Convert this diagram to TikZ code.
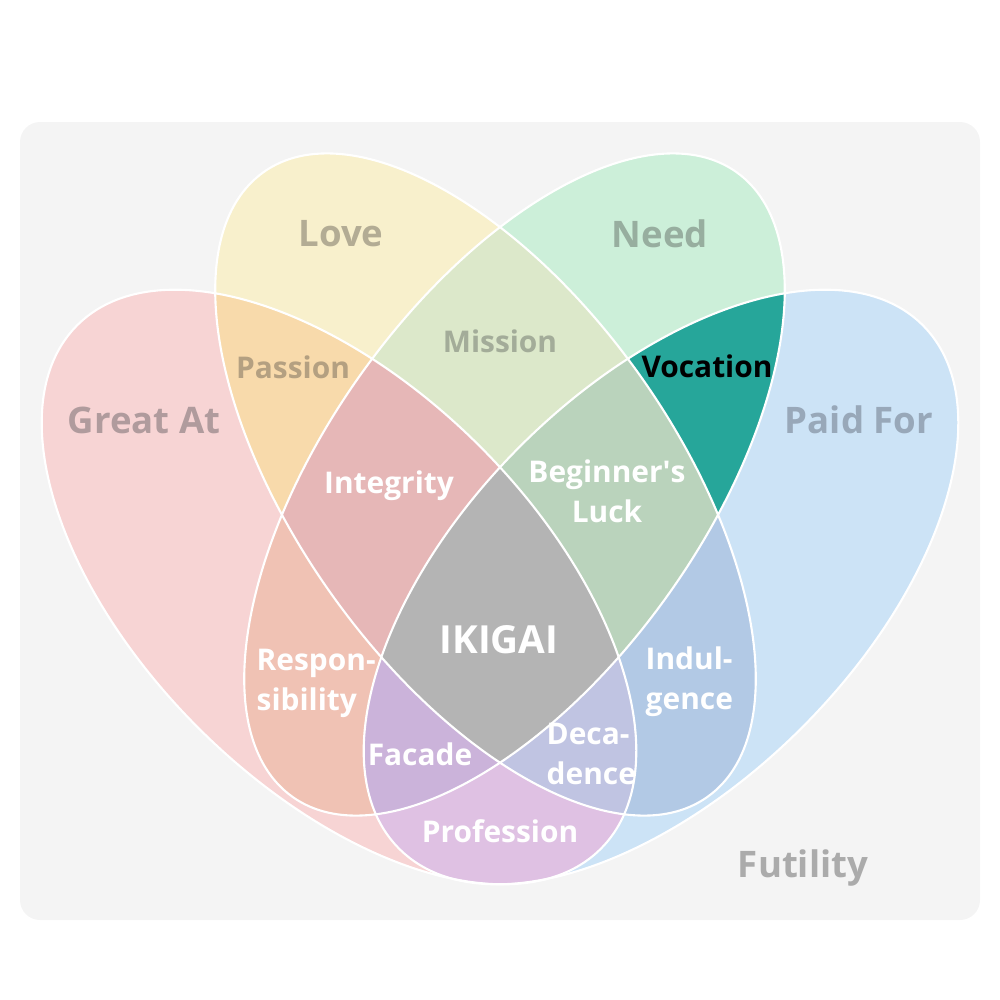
\documentclass[tikz,border=0pt]{standalone}
\usepackage{fontspec}
\setmainfont{Open Sans}
\usepackage{xcolor}
\usetikzlibrary{calc}

% Colours
\definecolor{bggray}{HTML}{F4F4F4}
\definecolor{fillGreat}{HTML}{F7D4D4}
\definecolor{fillLove}{HTML}{F8F0CC}
\definecolor{fillNeed}{HTML}{CCEFD9}
\definecolor{fillPaid}{HTML}{CCE3F6}
\definecolor{fillPassion}{HTML}{F8DAAB}
\definecolor{fillMission}{HTML}{DCE8CA}
\definecolor{fillVocation}{HTML}{26A69A}
\definecolor{fillProfession}{HTML}{DFC1E3}
\definecolor{fillRespons}{HTML}{F0C2B4}
\definecolor{fillIndulge}{HTML}{B2C9E5}
\definecolor{fillIntegrity}{HTML}{E6B7B7}
\definecolor{fillLuck}{HTML}{BAD3BC}
\definecolor{fillFacade}{HTML}{CBB3DA}
\definecolor{fillDecad}{HTML}{C0C4E2}
\definecolor{fillIkigai}{HTML}{B4B4B4}
\definecolor{txtGreat}{HTML}{B09B9D}
\definecolor{txtLove}{HTML}{B3AC94}
\definecolor{txtNeed}{HTML}{97AE9F}
\definecolor{txtPaid}{HTML}{98A8B9}
\definecolor{txtPassion}{HTML}{B4A081}
\definecolor{txtMission}{HTML}{A3AC99}
\definecolor{txtFutility}{HTML}{ABABAB}

% Sets
\newcommand{\venGreat}{(339,587) ellipse [x radius=3.70cm, y radius=1.99cm, rotate=-45]}
\newcommand{\venLove}{(485.5,484.5) ellipse [x radius=3.83cm, y radius=1.89cm, rotate=-54.6]}
\newcommand{\venNeed}{(514.5,484.5) ellipse [x radius=3.83cm, y radius=1.89cm, rotate=54.6]}
\newcommand{\venPaid}{(661,587) ellipse [x radius=3.70cm, y radius=1.99cm, rotate=45]}

\begin{document}
\begin{tikzpicture}[x=0.01cm,y=-0.01cm,
    outline/.style={draw=white, line width=0.6pt},
    setname/.style={font=\fontsize{10.4}{12}\selectfont\bfseries, anchor=base, inner sep=0pt},
    region/.style={font=\fontsize{8.5}{11.4}\selectfont\bfseries, text=white, anchor=base, inner sep=0pt}]
  \useasboundingbox (0,0) rectangle (1000,1000);

  % Background
  \fill[bggray, rounded corners=0.2cm] (20,122) rectangle (980,920);

  % Single sets
  \foreach \s/\col in {\venGreat/fillGreat, \venLove/fillLove, \venNeed/fillNeed, \venPaid/fillPaid}
    \fill[fill=\col] \s;

  % Two sets
  \foreach \sa/\sb/\col in {\venGreat/\venLove/fillPassion, \venLove/\venNeed/fillMission,
      \venNeed/\venPaid/fillVocation, \venGreat/\venPaid/fillProfession,
      \venGreat/\venNeed/fillRespons, \venLove/\venPaid/fillIndulge}
  {
    \begin{scope}
      \clip \sa;
      \fill[fill=\col] \sb;
    \end{scope}
  }

  % Three sets
  \foreach \sa/\sb/\sc/\col in {\venGreat/\venLove/\venNeed/fillIntegrity,
      \venLove/\venNeed/\venPaid/fillLuck, \venGreat/\venNeed/\venPaid/fillFacade,
      \venGreat/\venLove/\venPaid/fillDecad}
  {
    \begin{scope}
      \clip \sa;
      \clip \sb;
      \fill[fill=\col] \sc;
    \end{scope}
  }

  % All four
  \begin{scope}
    \clip \venGreat;
    \clip \venLove;
    \clip \venNeed;
    \fill[fillIkigai] \venPaid;
  \end{scope}

  % Outlines
  \foreach \s in {\venGreat, \venLove, \venNeed, \venPaid}
    \draw[outline] \s;

  % Set names
  \node[setname, text=txtGreat] (great) at (144,433) {Great At};
  \node[setname, text=txtLove] (love) at (341,246) {Love};
  \node[setname, text=txtNeed] (need) at (660,247) {Need};
  \node[setname, text=txtPaid] (paid) at (859,433) {Paid For};
  \node[setname, text=txtFutility] (futility) at (803,877) {Futility};

  % Regions
  \node[region, text=txtPassion] (passion) at (293,378) {Passion};
  \node[region, text=txtMission] (mission) at (500,352) {Mission};
  \node[region, text=black] (vocation) at (707,377) {Vocation};
  \node[region] (integrity) at (389,493) {Integrity};
  \node[region, anchor=center, align=center] (luck) at (607,491) {Beginner\textquotesingle s\\Luck};
  \node[region, font=\fontsize{11}{13}\selectfont\bfseries] (ikigai) at (499,653) {IKIGAI};
  \node[region, anchor=west, align=left] (respons) at (256,683) {Respon-\\sibility};
  \node[region, anchor=west, align=left] (indulge) at (645,682) {Indul-\\gence};
  \node[region] (facade) at (420,765) {Facade};
  \node[region, anchor=west, align=left] (decad) at (546,754) {Deca-\\dence};
  \node[region] (profession) at (500,842) {Profession};
\end{tikzpicture}
\end{document}
